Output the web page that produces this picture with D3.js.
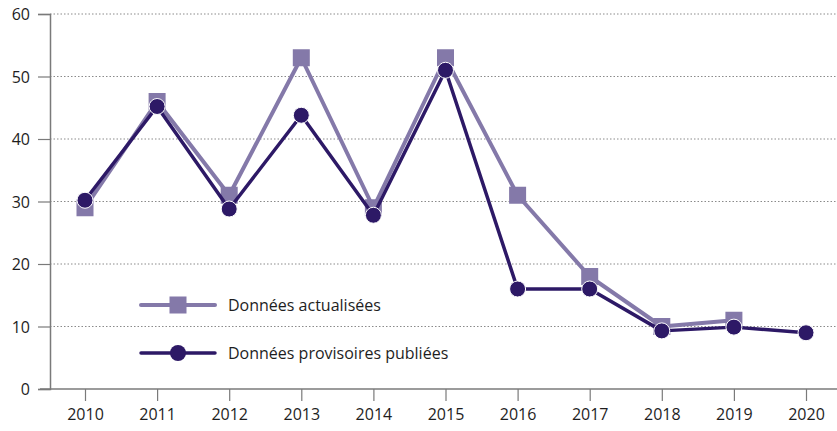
<!DOCTYPE html>
<html><head><meta charset="utf-8">
<script src="https://cdn.jsdelivr.net/npm/d3@7"></script>
<style>body{margin:0;background:#fff}svg{display:block}text{font-family:"Open Sans","Noto Sans",sans-serif;fill:#1e1e1e}</style>
</head><body>
<svg id="c" width="837" height="431"></svg>
<script>
const years = ["2010","2011","2012","2013","2014","2015","2016","2017","2018","2019","2020"];
const actualisees = [29,46,31,53,29,53,31,18,10,11,null];
const provisoires = [30.2,45.2,28.8,43.8,27.8,51,16,16,9.3,9.9,9];
const yTicks = [0,10,20,30,40,50,60];
const seriesNames = ["Données actualisées","Données provisoires publiées"];

const svg = d3.select("#c");
const cLight = "#8479a9", cDark = "#2d1966";
const x = d3.scalePoint().domain(years).range([85,806]);
const y = d3.scaleLinear().domain([0,60]).range([389,14]);

// grid
svg.append("g").selectAll("line").data(yTicks.filter(d=>d>0)).join("line")
  .attr("x1",50).attr("x2",837).attr("y1",d=>y(d)).attr("y2",d=>y(d))
  .attr("stroke","#8a8a8a").attr("stroke-width",1).attr("stroke-dasharray","1.5,2");

// y axis
const ya = svg.append("g").attr("transform","translate(50,0)")
  .call(d3.axisLeft(y).tickValues(yTicks).tickSize(12).tickPadding(8));
ya.select(".domain").attr("stroke","#7a7a7a").attr("stroke-width",1.5);
ya.selectAll(".tick line").attr("stroke","#7a7a7a").attr("stroke-width",1.2);
ya.selectAll("text").attr("font-size",16).attr("fill","#1e1e1e").attr("dy","0.35em");

// x axis
svg.append("line").attr("x1",40).attr("x2",837).attr("y1",389).attr("y2",389)
  .attr("stroke","#7a7a7a").attr("stroke-width",1.5);
const xa = svg.append("g").attr("transform","translate(0,389)")
  .call(d3.axisBottom(x).tickSize(12).tickPadding(8));
xa.select(".domain").remove();
xa.selectAll(".tick line").attr("stroke","#7a7a7a").attr("stroke-width",1.2);
xa.selectAll("text").attr("font-size",16).attr("fill","#1e1e1e");

const line = d3.line().defined(d=>d!=null).x((d,i)=>x(years[i])).y(d=>y(d));

// light series
svg.append("path").datum(actualisees).attr("d",line).attr("fill","none")
  .attr("stroke",cLight).attr("stroke-width",4).attr("stroke-linejoin","round");
svg.append("g").selectAll("rect").data(actualisees.map((v,i)=>({v,i})).filter(d=>d.v!=null)).join("rect")
  .attr("x",d=>x(years[d.i])-8.5).attr("y",d=>y(d.v)-8.5)
  .attr("width",17).attr("height",17).attr("fill",cLight);

// dark series
svg.append("path").datum(provisoires).attr("d",line).attr("fill","none")
  .attr("stroke",cDark).attr("stroke-width",3.5).attr("stroke-linejoin","round");
svg.append("g").selectAll("circle").data(provisoires).join("circle")
  .attr("cx",(d,i)=>x(years[i])).attr("cy",d=>y(d)).attr("r",8)
  .attr("fill",cDark).attr("stroke","#fff").attr("stroke-width",1);

// legend
const leg = svg.append("g");
[[0,305],[1,353]].forEach(([k,ly])=>{
  const col = k===0?cLight:cDark;
  leg.append("line").attr("x1",141).attr("x2",215).attr("y1",ly).attr("y2",ly)
    .attr("stroke",col).attr("stroke-width",k===0?4:3.5).attr("stroke-linecap","round");
  if(k===0) leg.append("rect").attr("x",178-8.5).attr("y",ly-8.5).attr("width",17).attr("height",17).attr("fill",col);
  else leg.append("circle").attr("cx",178).attr("cy",ly).attr("r",8).attr("fill",col);
  leg.append("text").attr("x",228).attr("y",ly).attr("dy","0.35em").attr("font-size",16).text(seriesNames[k]);
});
</script>
</body></html>
